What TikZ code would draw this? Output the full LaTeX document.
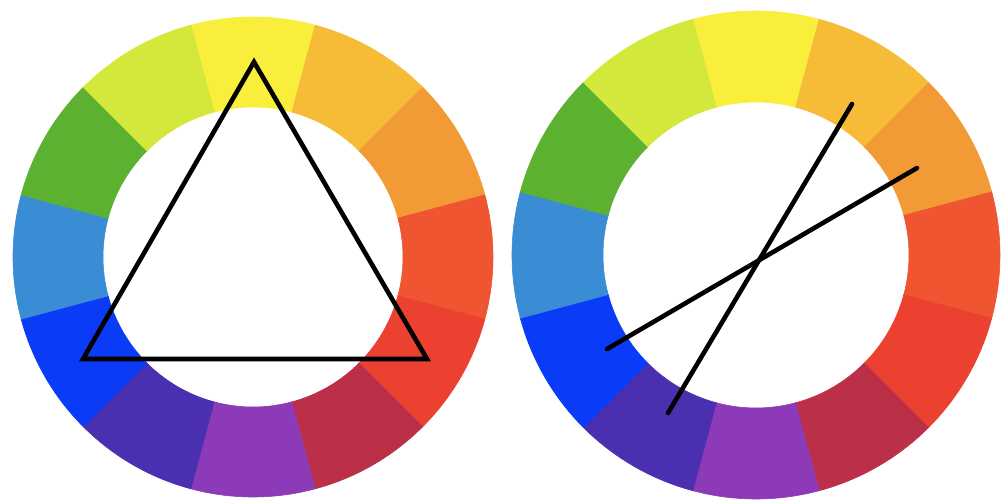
\documentclass[tikz,border=0pt]{standalone}
\usetikzlibrary{calc}
\definecolor{cYellow}{HTML}{F9EE3C}
\definecolor{cYelOr}{HTML}{F6BC38}
\definecolor{cOrange}{HTML}{F29B36}
\definecolor{cRedOr}{HTML}{EE5530}
\definecolor{cRed}{HTML}{EC4130}
\definecolor{cCrimson}{HTML}{BB3048}
\definecolor{cPurple}{HTML}{8C3AB8}
\definecolor{cIndigo}{HTML}{4A30B0}
\definecolor{cBlue}{HTML}{0A3CF8}
\definecolor{cLtBlue}{HTML}{3A8CD4}
\definecolor{cGreen}{HTML}{5CB230}
\definecolor{cYelGr}{HTML}{D4E83C}
\tikzset{
  blackline/.style={draw=black, line width=4.6pt},
}
\newcommand{\wheelsectors}[3]{%
  \foreach \col [count=\i from 0] in {cYellow,cYelOr,cOrange,cRedOr,cRed,cCrimson,cPurple,cIndigo,cBlue,cLtBlue,cGreen,cYelGr}{
    \pgfmathsetmacro{\a}{90-30*\i}
    \fill[\col, draw=\col, line width=0.6pt]
      ($(#1)+(\a+15:#2)$) arc[start angle=\a+15, end angle=\a-15, radius=#2]
      -- ($(#1)+(\a-15:#3)$) arc[start angle=\a-15, end angle=\a+15, radius=#3] -- cycle;
  }
}
\begin{document}
\begin{tikzpicture}[x=1pt,y=1pt]
\useasboundingbox (0,0) rectangle (1001,499);
\fill[white] (0,0) rectangle (1001,499);
% left wheel
\coordinate (cl) at (253,242);
\wheelsectors{cl}{240}{150}
\coordinate (t1) at (254,437);
\coordinate (t2) at (83,140);
\coordinate (t3) at (427,140);
\draw[blackline, line join=miter] (t1) -- (t2) -- (t3) -- cycle;
% right wheel
\coordinate (cr) at (756,244);
\wheelsectors{cr}{244}{153}
\coordinate (a1) at (852,395);
\coordinate (a2) at (668,86);
\coordinate (b1) at (917,331);
\coordinate (b2) at (607,150);
\draw[blackline, line cap=round] (a1) -- (a2);
\draw[blackline, line cap=round] (b1) -- (b2);
\end{tikzpicture}
\end{document}
